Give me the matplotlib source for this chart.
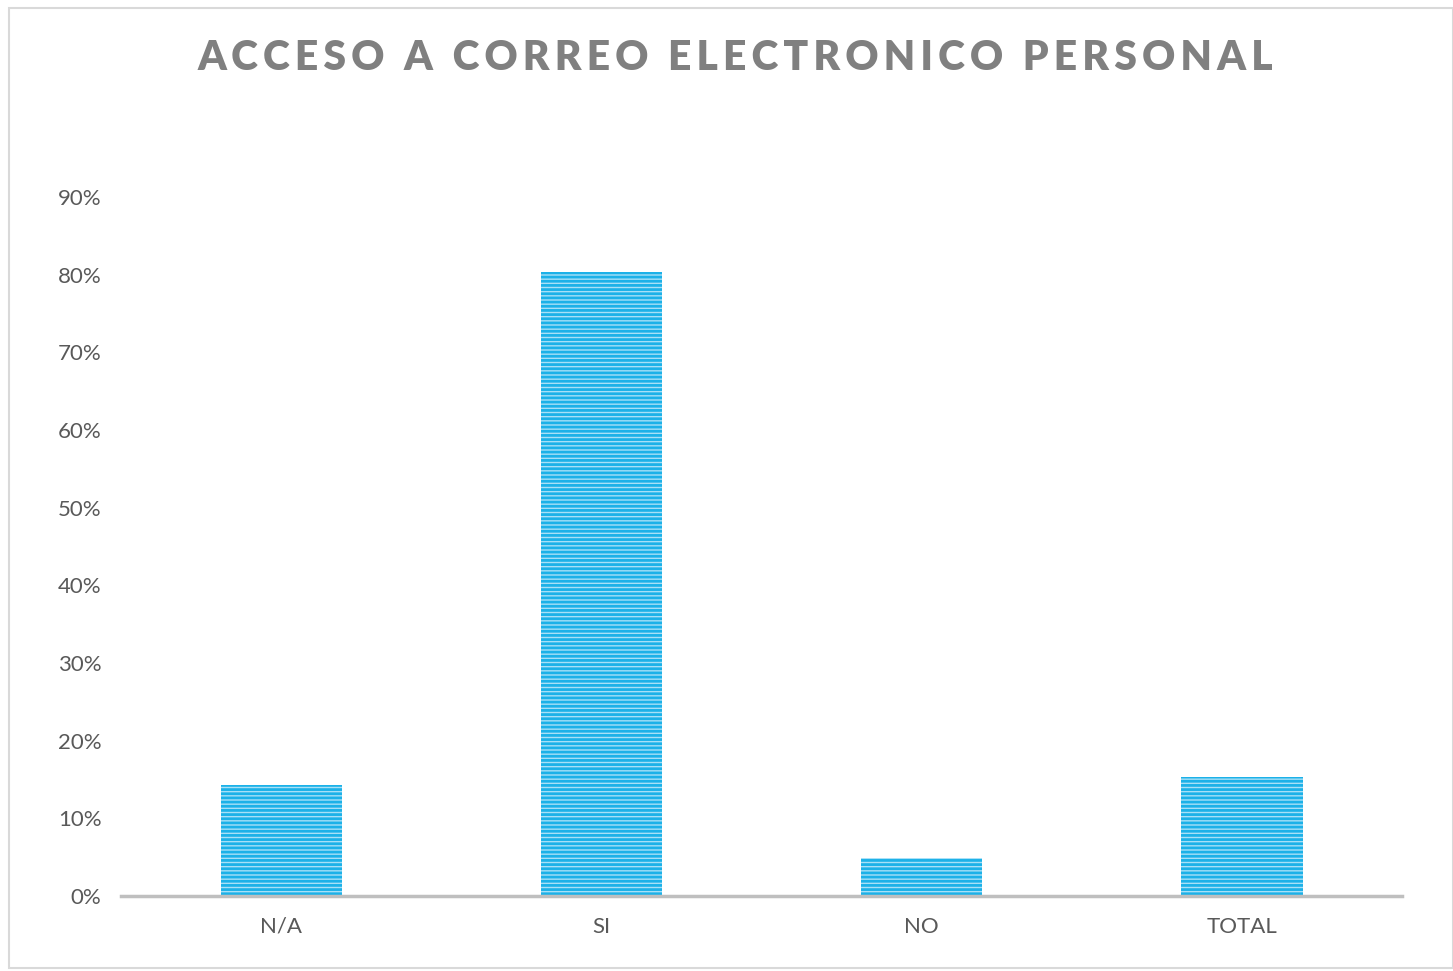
import matplotlib.pyplot as plt
from matplotlib.patches import Rectangle
from matplotlib.ticker import FuncFormatter

# datos
categorias = ["N/A", "SI", "NO", "TOTAL"]
valores = [0.143, 0.804, 0.049, 0.153]
ticks_y = [0.0, 0.1, 0.2, 0.3, 0.4, 0.5, 0.6, 0.7, 0.8, 0.9]

plt.rcParams['font.family'] = ['Lato', 'DejaVu Sans']
plt.rcParams['hatch.linewidth'] = 2.0
plt.rcParams['hatch.color'] = '#1cb1e8'

fig = plt.figure(figsize=(14.53, 9.71), dpi=100)
fig.patches.append(Rectangle((0.006, 0.003), 0.994, 0.989, transform=fig.transFigure,
                             fill=False, edgecolor='#d9d9d9', linewidth=1.5))

ax = fig.add_axes([0.0833, 0.0773, 0.8817, 0.7197])
ax.bar(range(len(categorias)), valores, width=0.378, color='#a8e0f7',
       edgecolor='#1cb1e8', linewidth=0, hatch='----')

ax.set_xlim(-0.5, 3.5)
ax.set_ylim(0, 0.9)
ax.set_yticks(ticks_y)
ax.yaxis.set_major_formatter(FuncFormatter(lambda v, p: f"{v * 100:.0f}%"))
ax.set_xticks(range(len(categorias)))
ax.set_xticklabels(categorias)
ax.tick_params(axis='both', length=0, labelsize=16, colors='#595959')
ax.tick_params(axis='y', pad=14)
ax.tick_params(axis='x', pad=15)
for s in ['top', 'right', 'left']:
    ax.spines[s].set_visible(False)
ax.spines['bottom'].set_color('#bfbfbf')
ax.spines['bottom'].set_linewidth(2.5)

titulo = "ACCESO A CORREO ELECTRONICO PERSONAL"
espaciado = "\u2009".join(titulo)
fig.text(0.506, 0.940, espaciado, ha='center', va='center', fontsize=29.3,
         fontweight='heavy', color='#808080')

plt.savefig("out.png", dpi=100)
